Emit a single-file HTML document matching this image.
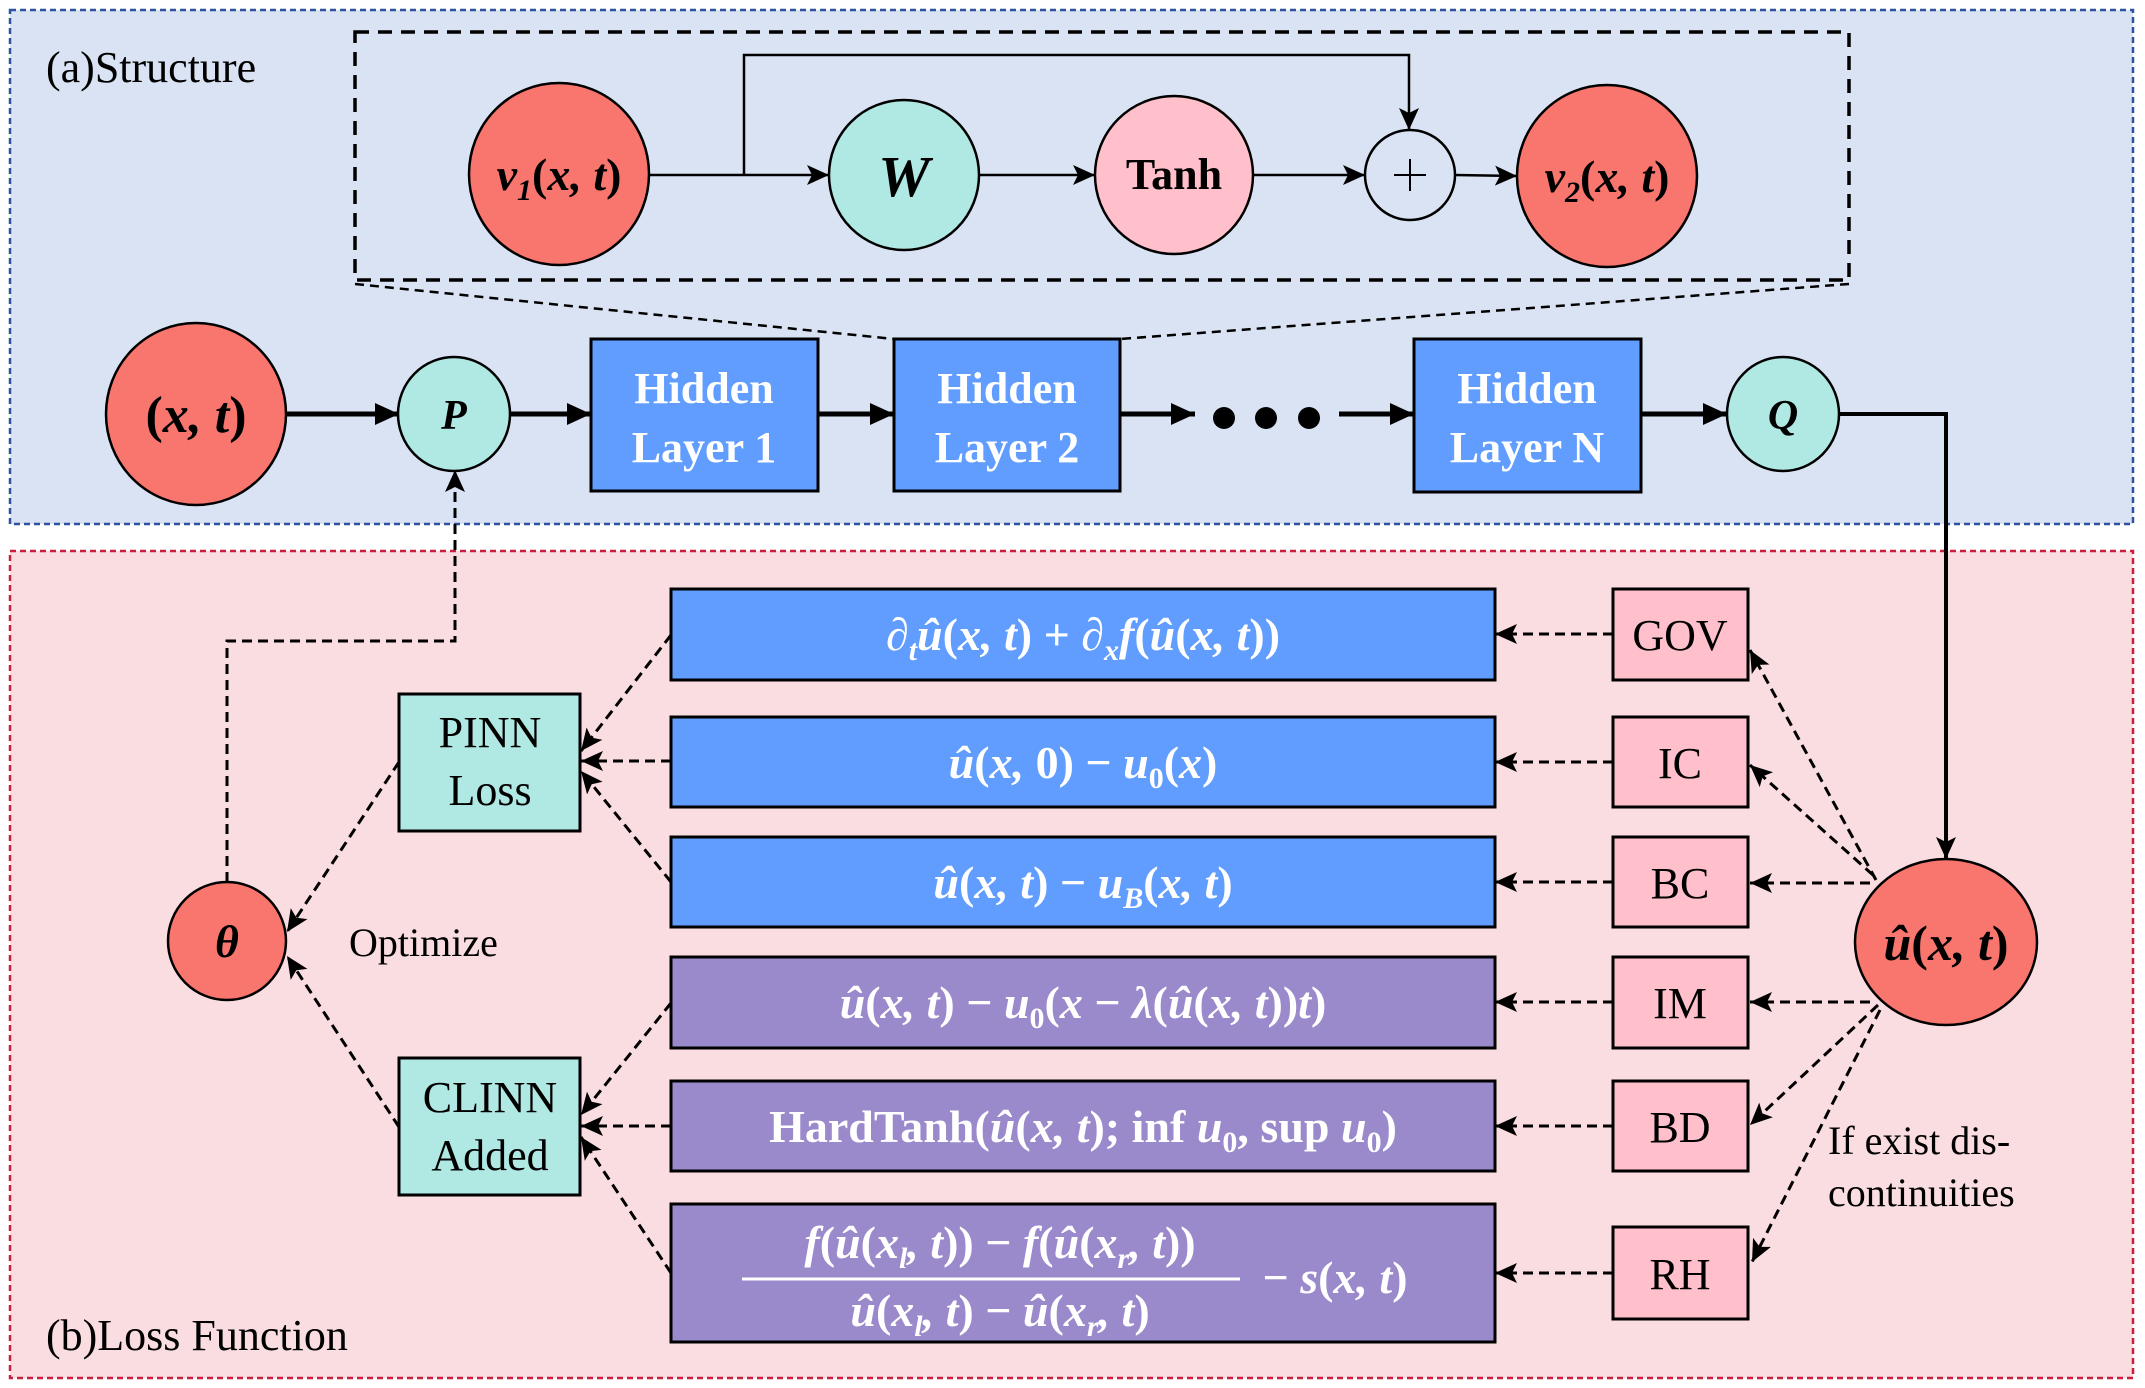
<!DOCTYPE html>
<html><head><meta charset="utf-8"><style>
html,body{margin:0;padding:0;background:#fff}
svg{display:block}
text{font-family:"Liberation Serif",serif}
.m{font-style:italic;font-weight:bold}
</style></head><body>
<svg width="2145" height="1388" viewBox="0 0 2145 1388" xmlns="http://www.w3.org/2000/svg">
<defs>
<marker id="b" markerUnits="userSpaceOnUse" markerWidth="30" markerHeight="30" refX="24" refY="11" orient="auto"><path d="M0,0 L24,11 L0,22 Z" fill="#000"/></marker>
<marker id="c" markerUnits="userSpaceOnUse" markerWidth="30" markerHeight="30" refX="22" refY="10" orient="auto"><path d="M0,0 L22,10 L0,20 L5,10 Z" fill="#000"/></marker>
</defs>
<rect x="10" y="10" width="2123" height="514" fill="#dae3f3" stroke="#2f52a0" stroke-width="2.5" stroke-dasharray="6,4"/>
<rect x="10" y="551" width="2123" height="827" fill="#fadde1" stroke="#c8203c" stroke-width="2.5" stroke-dasharray="6,4"/>
<text x="46" y="82" font-size="44">(a)Structure</text>
<text x="46" y="1350" font-size="44">(b)Loss Function</text>

<rect x="355" y="32" width="1494" height="248" fill="none" stroke="#000" stroke-width="3.5" stroke-dasharray="14,9"/>
<path d="M355,284 L894,339 M1849,284 L1120,339" stroke="#000" stroke-width="2.5" stroke-dasharray="9,6" fill="none"/>

<path d="M650,175 L829,175" stroke="#000" stroke-width="2.5" marker-end="url(#c)"/>
<path d="M744,175 L744,55 L1409,55 L1409,130" stroke="#000" stroke-width="2.5" fill="none" marker-end="url(#c)"/>
<path d="M979,175 L1095,175" stroke="#000" stroke-width="2.5" marker-end="url(#c)"/>
<path d="M1253,175 L1365,175" stroke="#000" stroke-width="2.5" marker-end="url(#c)"/>
<path d="M1455,175 L1517,176" stroke="#000" stroke-width="2.5" marker-end="url(#c)"/>
<ellipse cx="559" cy="174" rx="90" ry="91" fill="#f8766d" stroke="#000" stroke-width="2.5"/>
<text x="559" y="190" font-size="46" text-anchor="middle" class="m">v<tspan font-size="30" dy="10">1</tspan><tspan dy="-10" font-style="normal">(</tspan>x, t<tspan font-style="normal">)</tspan></text>
<ellipse cx="904" cy="175" rx="75" ry="75" fill="#b0e8e3" stroke="#000" stroke-width="2.5"/>
<text x="904" y="196" font-size="58" text-anchor="middle" class="m">W</text>
<ellipse cx="1174" cy="175" rx="79" ry="79" fill="#ffc0cb" stroke="#000" stroke-width="2.5"/>
<text x="1174" y="189" font-size="44" text-anchor="middle" font-weight="bold">Tanh</text>
<ellipse cx="1410" cy="175" rx="45" ry="45" fill="none" stroke="#000" stroke-width="2.5"/>
<path d="M1410,159 L1410,191 M1394,175 L1426,175" stroke="#000" stroke-width="2"/>
<ellipse cx="1607" cy="176" rx="90" ry="91" fill="#f8766d" stroke="#000" stroke-width="2.5"/>
<text x="1607" y="192" font-size="46" text-anchor="middle" class="m">v<tspan font-size="30" dy="10">2</tspan><tspan dy="-10" font-style="normal">(</tspan>x, t<tspan font-style="normal">)</tspan></text>

<g stroke="#000" stroke-width="5">
<path d="M286,414 L399,414" marker-end="url(#b)"/>
<path d="M510,414 L591,414" marker-end="url(#b)"/>
<path d="M818,414 L894,414" marker-end="url(#b)"/>
<path d="M1120,414 L1195,414" marker-end="url(#b)"/>
<path d="M1339,414 L1414,414" marker-end="url(#b)"/>
<path d="M1641,414 L1727,414" marker-end="url(#b)"/>
</g>
<path d="M1840,414 L1946,414 L1946,859" stroke="#000" stroke-width="4" fill="none" marker-end="url(#c)"/>
<circle cx="1224" cy="418" r="11"/><circle cx="1266" cy="418" r="11"/><circle cx="1309" cy="418" r="11"/>
<ellipse cx="196" cy="414" rx="90" ry="91" fill="#f8766d" stroke="#000" stroke-width="2.5"/>
<text x="196" y="432" font-size="52" text-anchor="middle" class="m"><tspan font-style="normal">(</tspan>x, t<tspan font-style="normal">)</tspan></text>
<ellipse cx="454" cy="414" rx="56" ry="57" fill="#b0e8e3" stroke="#000" stroke-width="2.5"/>
<text x="454" y="429" font-size="42" text-anchor="middle" class="m">P</text>
<ellipse cx="1783" cy="414" rx="56" ry="57" fill="#b0e8e3" stroke="#000" stroke-width="2.5"/>
<text x="1783" y="429" font-size="42" text-anchor="middle" class="m">Q</text>
<g font-size="44" font-weight="bold" fill="#fff" text-anchor="middle">
<rect x="591" y="339" width="227" height="152" fill="#619cff" stroke="#000" stroke-width="3"/>
<text x="704" y="403">Hidden</text><text x="704" y="462">Layer 1</text>
<rect x="894" y="339" width="226" height="152" fill="#619cff" stroke="#000" stroke-width="3"/>
<text x="1007" y="403">Hidden</text><text x="1007" y="462">Layer 2</text>
<rect x="1414" y="339" width="227" height="153" fill="#619cff" stroke="#000" stroke-width="3"/>
<text x="1527" y="403">Hidden</text><text x="1527" y="462">Layer N</text>
</g>

<path d="M227,882 L227,641 L455,641 L455,470" stroke="#000" stroke-width="3" stroke-dasharray="10,6" fill="none" marker-end="url(#c)"/>

<g stroke="#000" stroke-width="3" stroke-dasharray="10,6" fill="none">
<path d="M671,635 L581,751" marker-end="url(#c)"/>
<path d="M671,761 L581,761" marker-end="url(#c)"/>
<path d="M671,882 L581,771" marker-end="url(#c)"/>
<path d="M671,1003 L581,1115" marker-end="url(#c)"/>
<path d="M671,1126 L581,1126" marker-end="url(#c)"/>
<path d="M671,1273 L581,1137" marker-end="url(#c)"/>
<path d="M399,762 L287,932" marker-end="url(#c)"/>
<path d="M399,1127 L287,956" marker-end="url(#c)"/>
<path d="M1613,634 L1495,634" marker-end="url(#c)"/>
<path d="M1613,762 L1495,762" marker-end="url(#c)"/>
<path d="M1613,882 L1495,882" marker-end="url(#c)"/>
<path d="M1613,1002 L1495,1002" marker-end="url(#c)"/>
<path d="M1613,1126 L1495,1126" marker-end="url(#c)"/>
<path d="M1613,1273 L1495,1273" marker-end="url(#c)"/>
<path d="M1876,880 L1750,650" marker-end="url(#c)"/>
<path d="M1873,875 L1750,765" marker-end="url(#c)"/>
<path d="M1870,883 L1750,883" marker-end="url(#c)"/>
<path d="M1870,1002 L1750,1002" marker-end="url(#c)"/>
<path d="M1878,1005 L1750,1125" marker-end="url(#c)"/>
<path d="M1880,1010 L1752,1262" marker-end="url(#c)"/>
</g>

<ellipse cx="227" cy="941" rx="59" ry="59" fill="#f8766d" stroke="#000" stroke-width="2.5"/>
<text x="227" y="957" font-size="46" text-anchor="middle" class="m">θ</text>
<text x="349" y="956" font-size="40">Optimize</text>
<g font-size="44" text-anchor="middle">
<rect x="399" y="694" width="181" height="137" fill="#b0e8e3" stroke="#000" stroke-width="3"/>
<text x="490" y="747">PINN</text><text x="490" y="805">Loss</text>
<rect x="399" y="1058" width="181" height="137" fill="#b0e8e3" stroke="#000" stroke-width="3"/>
<text x="490" y="1112">CLINN</text><text x="490" y="1170">Added</text>
</g>

<g stroke="#000" stroke-width="3">
<rect x="671" y="589" width="824" height="91" fill="#619cff"/>
<rect x="671" y="717" width="824" height="90" fill="#619cff"/>
<rect x="671" y="837" width="824" height="90" fill="#619cff"/>
<rect x="671" y="957" width="824" height="91" fill="#9a89cb"/>
<rect x="671" y="1081" width="824" height="90" fill="#9a89cb"/>
<rect x="671" y="1204" width="824" height="138" fill="#9a89cb"/>
</g>
<g font-size="46" text-anchor="middle" fill="#fff" font-weight="bold">
<text x="1083" y="650" font-style="italic">∂<tspan font-size="30" dy="10">t</tspan><tspan dy="-10">û</tspan><tspan font-style="normal">(</tspan>x, t<tspan font-style="normal">) + </tspan>∂<tspan font-size="30" dy="10">x</tspan><tspan dy="-10">f</tspan><tspan font-style="normal">(</tspan>û<tspan font-style="normal">(</tspan>x, t<tspan font-style="normal">))</tspan></text>
<text x="1083" y="778" font-style="italic">û<tspan font-style="normal">(</tspan>x, <tspan font-style="normal">0) − </tspan>u<tspan font-size="30" dy="10" font-style="normal">0</tspan><tspan dy="-10" font-style="normal">(</tspan>x<tspan font-style="normal">)</tspan></text>
<text x="1083" y="898" font-style="italic">û<tspan font-style="normal">(</tspan>x, t<tspan font-style="normal">) − </tspan>u<tspan font-size="30" dy="10">B</tspan><tspan dy="-10" font-style="normal">(</tspan>x, t<tspan font-style="normal">)</tspan></text>
<text x="1083" y="1018" font-style="italic">û<tspan font-style="normal">(</tspan>x, t<tspan font-style="normal">) − </tspan>u<tspan font-size="30" dy="10" font-style="normal">0</tspan><tspan dy="-10" font-style="normal">(</tspan>x <tspan font-style="normal">− </tspan>λ<tspan font-style="normal">(</tspan>û<tspan font-style="normal">(</tspan>x, t<tspan font-style="normal">))</tspan>t<tspan font-style="normal">)</tspan></text>
<text x="1083" y="1142">HardTanh(<tspan font-style="italic">û</tspan>(<tspan font-style="italic">x, t</tspan>); inf <tspan font-style="italic">u</tspan><tspan font-size="30" dy="10">0</tspan><tspan dy="-10">, sup </tspan><tspan font-style="italic">u</tspan><tspan font-size="30" dy="10">0</tspan><tspan dy="-10">)</tspan></text>
<text x="1000" y="1258" font-style="italic">f<tspan font-style="normal">(</tspan>û<tspan font-style="normal">(</tspan>x<tspan font-size="30" dy="10">l</tspan><tspan dy="-10">, t</tspan><tspan font-style="normal">)) − </tspan>f<tspan font-style="normal">(</tspan>û<tspan font-style="normal">(</tspan>x<tspan font-size="30" dy="10">r</tspan><tspan dy="-10">, t</tspan><tspan font-style="normal">))</tspan></text>
<text x="1000" y="1326" font-style="italic">û<tspan font-style="normal">(</tspan>x<tspan font-size="30" dy="10">l</tspan><tspan dy="-10">, t</tspan><tspan font-style="normal">) − </tspan>û<tspan font-style="normal">(</tspan>x<tspan font-size="30" dy="10">r</tspan><tspan dy="-10">, t</tspan><tspan font-style="normal">)</tspan></text>
<text x="1335" y="1293" font-style="italic"><tspan font-style="normal">− </tspan>s<tspan font-style="normal">(</tspan>x, t<tspan font-style="normal">)</tspan></text>
</g>
<line x1="742" y1="1279" x2="1240" y2="1279" stroke="#fff" stroke-width="3"/>

<g font-size="44" text-anchor="middle">
<rect x="1613" y="589" width="135" height="91" fill="#ffc0cb" stroke="#000" stroke-width="3"/><text x="1680" y="650">GOV</text>
<rect x="1613" y="717" width="135" height="90" fill="#ffc0cb" stroke="#000" stroke-width="3"/><text x="1680" y="778">IC</text>
<rect x="1613" y="837" width="135" height="90" fill="#ffc0cb" stroke="#000" stroke-width="3"/><text x="1680" y="898">BC</text>
<rect x="1613" y="957" width="135" height="91" fill="#ffc0cb" stroke="#000" stroke-width="3"/><text x="1680" y="1018">IM</text>
<rect x="1613" y="1081" width="135" height="90" fill="#ffc0cb" stroke="#000" stroke-width="3"/><text x="1680" y="1142">BD</text>
<rect x="1613" y="1227" width="135" height="92" fill="#ffc0cb" stroke="#000" stroke-width="3"/><text x="1680" y="1289">RH</text>
</g>
<ellipse cx="1946" cy="942" rx="91" ry="83" fill="#f8766d" stroke="#000" stroke-width="2.5"/>
<text x="1946" y="960" font-size="50" text-anchor="middle" class="m">û<tspan font-style="normal">(</tspan>x, t<tspan font-style="normal">)</tspan></text>
<text x="1828" y="1154" font-size="40">If exist dis-</text>
<text x="1828" y="1206" font-size="40">continuities</text>
</svg>
</body></html>
